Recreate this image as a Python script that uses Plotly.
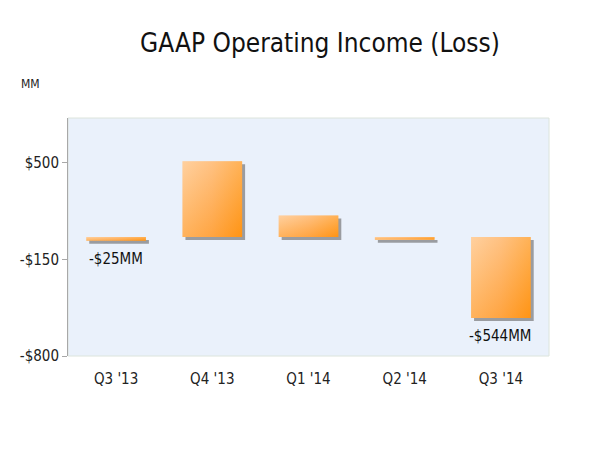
import plotly.graph_objects as go

categories = ["Q3 '13", "Q4 '13", "Q1 '14", "Q2 '14", "Q3 '14"]
values = [-25, 510, 144, -18, -544]
value_labels = ["-$25MM", "", "", "", "-$544MM"]
ytick_vals = [500, -150, -800]
ytick_text = ["$500", "-$150", "-$800"]

FONT = "DejaVu Sans Condensed, DejaVu Sans, sans-serif"
W, H = 616, 457
ml, mr, mt, mb = 57, 75, 110, 109
yr = [-800, 800]
xr = [-0.5, len(categories) - 0.5]
plot_w = W - ml - mr
plot_h = H - mt - mb
px_x = (xr[1] - xr[0]) / plot_w
px_y = (yr[1] - yr[0]) / plot_h
bw = 0.62
sh = 3  # shadow offset in px

fig = go.Figure()

# shadows
for i, v in enumerate(values):
    dx = sh * px_x
    dy = -sh * px_y
    x0, x1 = i - bw / 2 + dx, i + bw / 2 + dx
    fig.add_trace(go.Scatter(
        x=[x0, x1, x1, x0, x0], y=[dy, dy, v + dy, v + dy, dy],
        fill="toself", mode="lines", line=dict(width=0),
        fillcolor="rgba(110,110,110,0.65)", hoverinfo="skip", showlegend=False))

# bars: horizontal gradient base + vertical gradient overlay (diagonal look)
for i, v in enumerate(values):
    x0, x1 = i - bw / 2, i + bw / 2
    fig.add_trace(go.Scatter(
        x=[x0, x1, x1, x0, x0], y=[0, 0, v, v, 0],
        fill="toself", mode="lines", line=dict(width=0),
        fillgradient=dict(type="horizontal",
                          colorscale=[[0, "#FFC78E"], [0.5, "#FFB163"], [1, "#FF981E"]]),
        hoverinfo="skip", showlegend=False))
    fig.add_trace(go.Scatter(
        x=[x0, x1, x1, x0, x0], y=[0, 0, v, v, 0],
        fill="toself", mode="lines", line=dict(width=0),
        fillgradient=dict(type="vertical",
                          colorscale=[[0, "rgba(255,140,0,0.35)"],
                                      [1, "rgba(255,225,190,0.35)"]]),
        hoverinfo="skip", showlegend=False))

for i, (v, t) in enumerate(zip(values, value_labels)):
    if t:
        fig.add_annotation(x=i, y=v, text=t, showarrow=False, yanchor="top",
                           yshift=-7, font=dict(family=FONT, size=15, color="#111"))

fig.add_annotation(x=(8 - ml) / plot_w, y=(mt - 76) / plot_h + 1, xref="paper", yref="paper",
                   xanchor="left", yanchor="middle", text="MM", showarrow=False,
                   font=dict(family=FONT, size=12, color="#222"))

fig.update_layout(
    width=W, height=H, autosize=False,
    margin=dict(l=ml, r=mr, t=mt, b=mb),
    paper_bgcolor="white", plot_bgcolor="#EAF1FB",
    font=dict(family=FONT, size=15, color="#222"),
    title=dict(text="GAAP Operating Income (Loss)", x=312 / W, xanchor="center",
               y=1 - 35 / H, yanchor="middle", font=dict(family=FONT, size=26, color="#111")),
    xaxis=dict(range=xr, tickvals=list(range(len(categories))), ticktext=categories,
               showgrid=False, zeroline=False, showline=False,
               ticks="outside", ticklen=9, tickcolor="rgba(0,0,0,0)",
               tickfont=dict(family=FONT, size=15, color="#222")),
    xaxis2=dict(range=xr, overlaying="x", anchor="free", position=0.5,
                showline=True, linecolor="#505050", linewidth=1,
                tickvals=[k - 0.5 for k in range(len(categories))],
                ticks="outside", ticklen=4, tickcolor="#505050",
                showticklabels=False, showgrid=False, zeroline=False),
    yaxis=dict(range=yr, tickvals=ytick_vals, ticktext=ytick_text,
               showgrid=False, zeroline=False, showline=True, linecolor="#A8A8A8",
               ticks="outside", ticklen=5, tickcolor="#A8A8A8",
               tickfont=dict(family=FONT, size=15, color="#222")),
    shapes=[dict(type="rect", xref="paper", yref="paper", x0=0, x1=1, y0=0, y1=1,
                 line=dict(color="#DCE4DC", width=1), layer="below")],
)

fig.write_html("out.html")
